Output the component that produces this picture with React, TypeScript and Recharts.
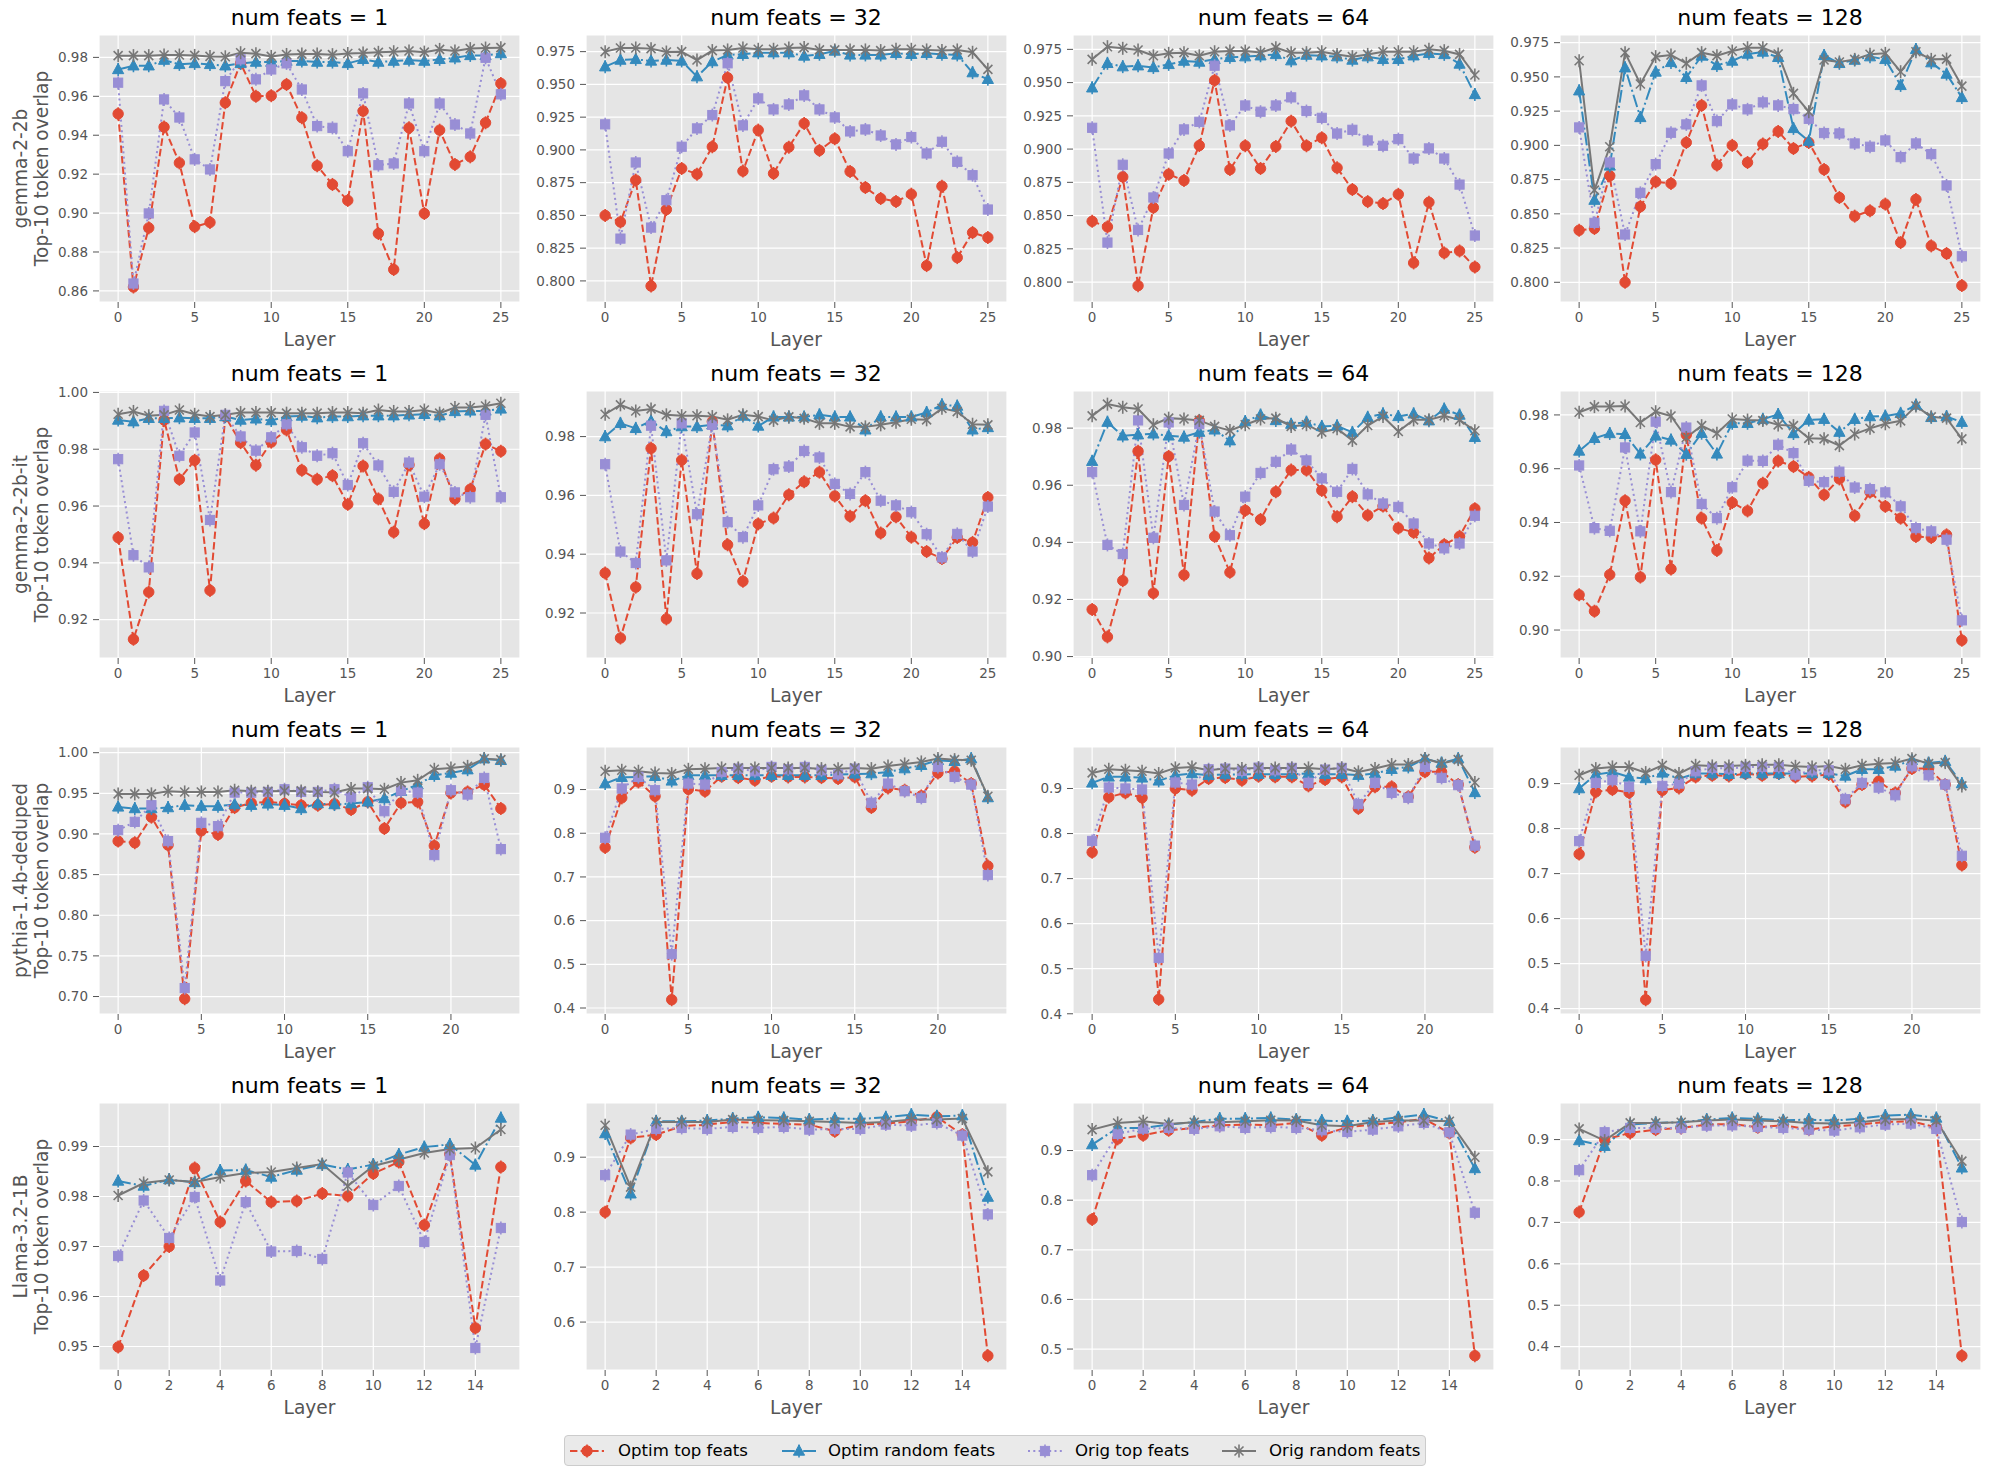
import React from 'react';
import { LineChart, Line, XAxis, YAxis, CartesianGrid } from 'recharts';

// ---------------- labels ----------------
const MODELS = ['gemma-2-2b', 'gemma-2-2b-it', 'pythia-1.4b-deduped', 'Llama-3.2-1B'];
const NUM_FEATS = [1, 32, 64, 128];
const SERIES_NAMES = ['Optim top feats', 'Optim random feats', 'Orig top feats', 'Orig random feats'];
const X_LABEL = 'Layer';
const Y_LABEL = 'Top-10 token overlap';

// ---------------- data: gemma-2-2b ----------------
const g2b_1_optTop = [0.951,0.862,0.8924,0.9442,0.9258,0.893,0.8952,0.9567,0.977,0.96,0.9603,0.9661,0.949,0.9243,0.9147,0.9065,0.9524,0.8895,0.871,0.9438,0.8998,0.9426,0.925,0.9289,0.9464,0.9666];
const g2b_1_optRand = [0.9738,0.9757,0.9757,0.9786,0.9764,0.9769,0.9764,0.9757,0.9769,0.9776,0.9776,0.9781,0.9781,0.9776,0.9776,0.9769,0.979,0.9776,0.9781,0.9786,0.9781,0.979,0.9798,0.981,0.981,0.982];
const g2b_1_origTop = [0.967,0.8638,0.8998,0.9584,0.9491,0.9276,0.9224,0.9678,0.979,0.9687,0.9738,0.9769,0.9635,0.9447,0.9438,0.9318,0.9615,0.9246,0.9255,0.9563,0.9318,0.9563,0.9455,0.9409,0.9798,0.961];
const g2b_1_origRand = [0.9809,0.9809,0.9809,0.9812,0.9812,0.981,0.9805,0.9803,0.9824,0.9819,0.9805,0.9815,0.9817,0.9817,0.9814,0.982,0.9822,0.9826,0.9829,0.9833,0.9827,0.9841,0.9833,0.9845,0.9848,0.985];

const g2b_32_optTop = [0.85,0.845,0.8769,0.7961,0.8545,0.8858,0.8815,0.9024,0.9551,0.8838,0.9151,0.882,0.9021,0.9202,0.8996,0.9085,0.8835,0.8713,0.8629,0.8606,0.8662,0.8117,0.8723,0.8178,0.8369,0.8331];
const g2b_32_optRand = [0.9635,0.9686,0.9691,0.9679,0.9686,0.9679,0.9559,0.9674,0.9725,0.973,0.9742,0.9742,0.9742,0.9717,0.973,0.9755,0.9725,0.9725,0.9725,0.9737,0.973,0.9737,0.973,0.9725,0.959,0.9539];
const g2b_32_origTop = [0.9195,0.8323,0.8904,0.8407,0.8616,0.9024,0.9164,0.9266,0.9661,0.9187,0.9393,0.9309,0.9347,0.9416,0.9309,0.9248,0.9141,0.9156,0.911,0.9042,0.9098,0.8973,0.9062,0.8909,0.8807,0.8545];
const g2b_32_origRand = [0.975,0.9778,0.9778,0.9773,0.9747,0.975,0.9686,0.9758,0.9763,0.9778,0.9768,0.9768,0.9778,0.9781,0.9763,0.9763,0.9763,0.9763,0.9758,0.9768,0.9768,0.9763,0.9758,0.9763,0.9745,0.9615];

const g2b_64_optTop = [0.8457,0.8415,0.8791,0.7973,0.856,0.8811,0.8764,0.9027,0.9517,0.8846,0.9025,0.8854,0.902,0.921,0.9025,0.9085,0.8859,0.8696,0.8605,0.859,0.866,0.8144,0.86,0.8219,0.8234,0.8113];
const g2b_64_optRand = [0.9461,0.9645,0.962,0.9627,0.9614,0.9637,0.9662,0.9655,0.9675,0.969,0.9695,0.9702,0.9712,0.9665,0.9707,0.9702,0.9695,0.967,0.9695,0.9675,0.9675,0.9702,0.972,0.9712,0.964,0.9411];
const g2b_64_origTop = [0.916,0.8297,0.8882,0.8392,0.8636,0.8967,0.9148,0.9205,0.9627,0.9178,0.9328,0.9281,0.9328,0.9389,0.9286,0.9235,0.9117,0.9145,0.9065,0.9025,0.9075,0.8929,0.9005,0.8929,0.8733,0.835];
const g2b_64_origRand = [0.9675,0.977,0.9758,0.9745,0.9702,0.972,0.9725,0.9702,0.9732,0.9737,0.9737,0.9727,0.9763,0.9725,0.9725,0.9732,0.9712,0.9695,0.9712,0.9732,0.9732,0.9732,0.975,0.974,0.9712,0.9557];

const g2b_128_optTop = [0.838,0.8393,0.8778,0.8,0.8553,0.8734,0.8722,0.9021,0.9292,0.8856,0.9,0.8875,0.901,0.9102,0.8977,0.9021,0.8824,0.8619,0.8483,0.8522,0.8571,0.829,0.8605,0.8266,0.821,0.7976];
const g2b_128_optRand = [0.9399,0.86,0.885,0.9567,0.9204,0.9536,0.9606,0.9497,0.9653,0.9584,0.9616,0.9667,0.9682,0.9643,0.9124,0.9031,0.9657,0.9599,0.9623,0.9648,0.9628,0.9438,0.9701,0.9604,0.9521,0.935];
const g2b_128_origTop = [0.9131,0.8434,0.8875,0.8349,0.8653,0.8863,0.9092,0.9153,0.9438,0.9177,0.9299,0.9263,0.9314,0.9292,0.9265,0.9194,0.909,0.9087,0.9014,0.899,0.9036,0.8914,0.9014,0.8936,0.8707,0.819];
const g2b_128_origRand = [0.9618,0.8673,0.899,0.9677,0.9448,0.9648,0.966,0.9599,0.9677,0.9655,0.9689,0.9713,0.9713,0.9667,0.938,0.9246,0.9623,0.9609,0.9628,0.9665,0.9672,0.9538,0.9684,0.9628,0.963,0.9433];

// ---------------- data: gemma-2-2b-it ----------------
const g2bit_1_optTop = [0.9489,0.9131,0.9297,0.9903,0.9694,0.9761,0.9303,0.9915,0.9823,0.9744,0.9825,0.9868,0.9726,0.9694,0.9707,0.9606,0.9741,0.9625,0.9508,0.9745,0.9538,0.9766,0.9625,0.9659,0.9818,0.9793];
const g2bit_1_optRand = [0.9903,0.9897,0.9909,0.9909,0.9911,0.9909,0.9909,0.9915,0.9903,0.9907,0.9901,0.9915,0.9917,0.9911,0.9915,0.9915,0.9918,0.9918,0.9918,0.9921,0.9923,0.9918,0.9933,0.9935,0.9935,0.9942];
const g2bit_1_origTop = [0.9765,0.9427,0.9384,0.9935,0.9777,0.9859,0.9551,0.9921,0.9845,0.9795,0.9842,0.9888,0.9807,0.9777,0.9786,0.9674,0.9821,0.9743,0.965,0.9753,0.9633,0.9747,0.9648,0.9631,0.9921,0.9631];
const g2bit_1_origRand = [0.9923,0.9933,0.9918,0.9921,0.9938,0.9923,0.9915,0.9921,0.9929,0.9929,0.9929,0.9927,0.9927,0.9927,0.9929,0.9929,0.9927,0.9938,0.9933,0.9933,0.9938,0.9927,0.9947,0.9947,0.9952,0.9962];

const g2bit_32_optTop = [0.9336,0.9115,0.9288,0.976,0.918,0.972,0.9334,0.9851,0.9432,0.9308,0.9503,0.9523,0.9602,0.9646,0.9679,0.9598,0.9529,0.9582,0.9472,0.9527,0.9458,0.9409,0.9385,0.9457,0.944,0.9593];
const g2bit_32_optRand = [0.98,0.9845,0.9828,0.9853,0.9817,0.9834,0.9834,0.984,0.9837,0.987,0.9836,0.9867,0.9867,0.9867,0.9874,0.9867,0.9867,0.9823,0.9867,0.9867,0.9867,0.9882,0.9908,0.9904,0.9823,0.9831];
const g2bit_32_origTop = [0.9706,0.9409,0.937,0.9837,0.9379,0.9845,0.9536,0.984,0.9509,0.9458,0.9566,0.9689,0.9698,0.9751,0.9729,0.9639,0.9605,0.9679,0.9582,0.9566,0.9543,0.9468,0.9389,0.9469,0.9409,0.9562];
const g2bit_32_origRand = [0.9876,0.9908,0.9887,0.9894,0.9874,0.9871,0.9871,0.9868,0.9857,0.9874,0.9868,0.9855,0.9867,0.9862,0.9845,0.9845,0.9833,0.9833,0.984,0.9849,0.9859,0.9857,0.9896,0.9885,0.9842,0.984];

const g2bit_64_optTop = [0.9165,0.9069,0.9266,0.9719,0.9222,0.9701,0.9286,0.9826,0.9421,0.9295,0.9512,0.948,0.9577,0.9653,0.9653,0.9582,0.949,0.956,0.9495,0.9527,0.945,0.9435,0.9345,0.9392,0.9421,0.9518];
const g2bit_64_optRand = [0.9684,0.9821,0.9773,0.9777,0.978,0.9773,0.9769,0.9786,0.9794,0.9756,0.9823,0.9846,0.9827,0.9814,0.9821,0.9806,0.9808,0.9785,0.9838,0.985,0.9841,0.985,0.9826,0.9867,0.9846,0.9768];
const g2bit_64_origTop = [0.9646,0.9391,0.9359,0.9827,0.9416,0.982,0.9531,0.9814,0.9508,0.9425,0.956,0.9643,0.9682,0.9725,0.9687,0.9624,0.9577,0.9657,0.9568,0.9536,0.9524,0.9466,0.9396,0.9379,0.9396,0.9493];
const g2bit_64_origRand = [0.9843,0.9884,0.9873,0.9867,0.9812,0.9835,0.9832,0.9827,0.9806,0.9792,0.9812,0.9832,0.9835,0.9806,0.9812,0.9786,0.9798,0.9757,0.9809,0.9841,0.9788,0.9829,0.9829,0.9843,0.9829,0.9791];

const g2bit_128_optTop = [0.9131,0.907,0.9206,0.9481,0.9197,0.9633,0.9227,0.9726,0.9416,0.9296,0.9474,0.9443,0.9546,0.9629,0.9608,0.9568,0.9503,0.9562,0.9425,0.9513,0.946,0.9416,0.9348,0.9344,0.9354,0.8962];
const g2bit_128_optRand = [0.9666,0.9713,0.9731,0.9728,0.9655,0.9722,0.9707,0.9654,0.9732,0.9655,0.9769,0.9769,0.9784,0.9802,0.9731,0.9781,0.9784,0.9736,0.9784,0.9794,0.9796,0.9806,0.9837,0.9791,0.9794,0.9773];
const g2bit_128_origTop = [0.9612,0.9379,0.9369,0.9679,0.9367,0.9775,0.9513,0.9753,0.9469,0.9416,0.9531,0.963,0.9629,0.9689,0.9658,0.9555,0.955,0.9589,0.953,0.9524,0.9512,0.946,0.9379,0.9367,0.9336,0.9036];
const g2bit_128_origRand = [0.981,0.9831,0.9831,0.9833,0.9772,0.9812,0.9796,0.9716,0.976,0.9732,0.9785,0.9781,0.9779,0.9763,0.976,0.9713,0.9711,0.9686,0.9729,0.975,0.9767,0.9778,0.9833,0.9793,0.9788,0.9711];

// ---------------- data: pythia-1.4b-deduped ----------------
const py_1_optTop = [0.8912,0.8892,0.9207,0.8863,0.6973,0.9039,0.8994,0.9325,0.9382,0.9395,0.9374,0.9354,0.9354,0.937,0.93,0.9395,0.9067,0.9382,0.9395,0.8855,0.9505,0.9517,0.9607,0.9313];
const py_1_optRand = [0.9333,0.9313,0.9313,0.9325,0.9354,0.9342,0.9342,0.9362,0.9354,0.937,0.9354,0.9313,0.9374,0.9362,0.9374,0.9395,0.9436,0.9526,0.9607,0.9722,0.975,0.9791,0.9926,0.9906];
const py_1_origTop = [0.9047,0.9149,0.9354,0.8912,0.7104,0.9137,0.9096,0.9509,0.9509,0.9517,0.955,0.9517,0.9517,0.955,0.9452,0.9575,0.928,0.9534,0.9509,0.874,0.9538,0.9485,0.9689,0.8814];
const py_1_origRand = [0.9493,0.9493,0.9493,0.9526,0.9517,0.9517,0.9517,0.9538,0.9526,0.9526,0.953,0.953,0.9517,0.9509,0.9558,0.9558,0.955,0.9632,0.966,0.9796,0.9812,0.9832,0.9926,0.9914];

const py_32_optTop = [0.7676,0.881,0.9175,0.8848,0.419,0.9008,0.8962,0.9304,0.9274,0.9213,0.9304,0.9289,0.9289,0.9274,0.9251,0.9289,0.8589,0.9038,0.8985,0.8855,0.938,0.9419,0.9137,0.725];
const py_32_optRand = [0.9137,0.9282,0.9289,0.9304,0.9198,0.9327,0.9327,0.9327,0.9327,0.9327,0.9327,0.9327,0.9327,0.9327,0.9342,0.9358,0.9365,0.9403,0.9479,0.9556,0.967,0.9647,0.9708,0.8817];
const py_32_origTop = [0.7897,0.9023,0.9289,0.8985,0.5233,0.9137,0.9114,0.9403,0.9479,0.9419,0.9517,0.9464,0.9517,0.9441,0.935,0.9479,0.8696,0.9137,0.8962,0.881,0.9517,0.9289,0.9114,0.7044];
const py_32_origRand = [0.9419,0.9441,0.9419,0.938,0.9365,0.9464,0.9479,0.9495,0.9495,0.9495,0.9495,0.9495,0.9495,0.9479,0.9479,0.9495,0.9479,0.954,0.9586,0.9632,0.9708,0.9685,0.967,0.8848];

const py_64_optTop = [0.7585,0.8808,0.8904,0.8794,0.432,0.9,0.8963,0.9221,0.9243,0.9184,0.9273,0.9258,0.9258,0.9059,0.9199,0.9258,0.8558,0.9037,0.9037,0.8816,0.9369,0.9369,0.9088,0.7696];
const py_64_optRand = [0.9125,0.9258,0.9258,0.9236,0.917,0.9295,0.9332,0.9295,0.931,0.931,0.9317,0.9317,0.9317,0.9332,0.9317,0.9317,0.9295,0.9332,0.9427,0.9479,0.9663,0.9567,0.9663,0.8912];
const py_64_origTop = [0.7836,0.9022,0.9,0.8978,0.5241,0.9133,0.9088,0.9427,0.9442,0.9391,0.9464,0.9405,0.9457,0.9125,0.942,0.9457,0.8654,0.9125,0.8904,0.8794,0.9479,0.9236,0.9074,0.7732];
const py_64_origRand = [0.9346,0.9427,0.9405,0.9383,0.9332,0.9457,0.9479,0.9405,0.9442,0.9442,0.9457,0.9457,0.9457,0.9457,0.9427,0.9457,0.9369,0.9442,0.9531,0.9531,0.9663,0.9553,0.9641,0.9133];

const py_128_optTop = [0.7433,0.8815,0.8867,0.88,0.4196,0.8852,0.8904,0.9148,0.9185,0.917,0.9222,0.9185,0.9222,0.9148,0.917,0.92,0.8594,0.8978,0.9052,0.8793,0.9333,0.9333,0.8978,0.719];
const py_128_optRand = [0.8889,0.92,0.9259,0.9148,0.9111,0.9237,0.9111,0.9222,0.9222,0.9207,0.9222,0.9222,0.9222,0.9222,0.9222,0.9222,0.917,0.9318,0.9318,0.9392,0.9517,0.9458,0.9495,0.9];
const py_128_origTop = [0.7722,0.9015,0.9074,0.8926,0.5172,0.8948,0.9,0.9273,0.9347,0.9333,0.937,0.937,0.937,0.92,0.9296,0.9296,0.8653,0.9015,0.8911,0.8741,0.9384,0.9185,0.8978,0.7396];
const py_128_origRand = [0.9185,0.9333,0.937,0.937,0.9244,0.9406,0.9222,0.9406,0.9392,0.9392,0.9406,0.9421,0.9421,0.9384,0.937,0.9392,0.9318,0.9406,0.9443,0.9458,0.9554,0.9443,0.9466,0.8948];

// ---------------- data: Llama-3.2-1B ----------------
const ll_1_optTop = [0.9499,0.9642,0.97,0.9857,0.9749,0.9831,0.9789,0.9791,0.9806,0.9801,0.9846,0.9869,0.9743,0.9885,0.9537,0.9859];
const ll_1_optRand = [0.9831,0.9821,0.9834,0.9828,0.9852,0.9853,0.9839,0.9853,0.9864,0.9854,0.9864,0.9884,0.9899,0.9904,0.9863,0.9957];
const ll_1_origTop = [0.9681,0.9792,0.9717,0.9799,0.9632,0.9789,0.969,0.9691,0.9675,0.9848,0.9783,0.9821,0.9709,0.9883,0.9497,0.9737];
const ll_1_origRand = [0.9802,0.9827,0.9833,0.9829,0.9839,0.9847,0.9849,0.9857,0.9865,0.9821,0.9861,0.9874,0.9887,0.9895,0.9897,0.9934];

const ll_32_optTop = [0.8,0.9351,0.9411,0.9563,0.9593,0.9641,0.9623,0.9605,0.9593,0.9472,0.9593,0.9611,0.9653,0.9732,0.9411,0.5388];
const ll_32_optRand = [0.943,0.8334,0.9653,0.9653,0.9666,0.9702,0.9726,0.9714,0.9684,0.9702,0.9696,0.9726,0.9774,0.9744,0.9756,0.8274];
const ll_32_origTop = [0.8673,0.9411,0.9514,0.9532,0.9514,0.9551,0.9532,0.9551,0.9502,0.9514,0.9514,0.9593,0.9575,0.9623,0.9393,0.7959];
const ll_32_origRand = [0.9581,0.8455,0.9641,0.9641,0.9641,0.9684,0.9672,0.9666,0.9653,0.9641,0.9623,0.9641,0.9684,0.9684,0.9702,0.8734];

const ll_64_optTop = [0.7613,0.9235,0.9308,0.9409,0.9456,0.9509,0.9523,0.9509,0.9556,0.9308,0.9469,0.9523,0.957,0.9643,0.9355,0.4866];
const ll_64_optRand = [0.9121,0.9456,0.9456,0.9523,0.9576,0.9643,0.9643,0.9657,0.9623,0.9603,0.959,0.9603,0.967,0.9724,0.959,0.8638];
const ll_64_origTop = [0.8504,0.9335,0.9442,0.9456,0.9436,0.9489,0.9456,0.9476,0.9456,0.9409,0.9375,0.9422,0.9489,0.9556,0.9368,0.7747];
const ll_64_origRand = [0.9422,0.9556,0.959,0.9536,0.957,0.957,0.959,0.961,0.9603,0.9509,0.9489,0.9576,0.9603,0.9603,0.959,0.8866];

const ll_128_optTop = [0.7249,0.9,0.9161,0.9241,0.9281,0.9361,0.9377,0.9297,0.9345,0.9241,0.9321,0.9361,0.9426,0.9442,0.9297,0.378];
const ll_128_optRand = [0.8976,0.8839,0.9361,0.9402,0.9418,0.9482,0.9522,0.9498,0.9466,0.9482,0.9458,0.9506,0.9578,0.9602,0.9522,0.8317];
const ll_128_origTop = [0.8261,0.9177,0.9281,0.9281,0.9281,0.9337,0.9345,0.9305,0.9281,0.9241,0.9217,0.9297,0.9361,0.9385,0.9257,0.7009];
const ll_128_origRand = [0.9257,0.8976,0.9402,0.9402,0.9418,0.9458,0.9482,0.9458,0.9442,0.9402,0.9385,0.9418,0.9482,0.9498,0.9458,0.8478];

// ---------------- axis ticks ----------------
const X_TICKS_26 = [0, 5, 10, 15, 20, 25];
const X_TICKS_24 = [0, 5, 10, 15, 20];
const X_TICKS_16 = [0, 2, 4, 6, 8, 10, 12, 14];
const Y_TICKS_A = [0.86, 0.88, 0.9, 0.92, 0.94, 0.96, 0.98];
const Y_TICKS_B = [0.8, 0.825, 0.85, 0.875, 0.9, 0.925, 0.95, 0.975];
const Y_TICKS_C = [0.92, 0.94, 0.96, 0.98, 1.0];
const Y_TICKS_D = [0.92, 0.94, 0.96, 0.98];
const Y_TICKS_E = [0.9, 0.92, 0.94, 0.96, 0.98];
const Y_TICKS_F = [0.7, 0.75, 0.8, 0.85, 0.9, 0.95, 1.0];
const Y_TICKS_G = [0.4, 0.5, 0.6, 0.7, 0.8, 0.9];
const Y_TICKS_H = [0.95, 0.96, 0.97, 0.98, 0.99];
const Y_TICKS_I = [0.6, 0.7, 0.8, 0.9];
const Y_TICKS_J = [0.5, 0.6, 0.7, 0.8, 0.9];

// ---------------- panel grid ----------------
const SERIES_GRID = [
  [
    [g2b_1_optTop, g2b_1_optRand, g2b_1_origTop, g2b_1_origRand],
    [g2b_32_optTop, g2b_32_optRand, g2b_32_origTop, g2b_32_origRand],
    [g2b_64_optTop, g2b_64_optRand, g2b_64_origTop, g2b_64_origRand],
    [g2b_128_optTop, g2b_128_optRand, g2b_128_origTop, g2b_128_origRand],
  ],
  [
    [g2bit_1_optTop, g2bit_1_optRand, g2bit_1_origTop, g2bit_1_origRand],
    [g2bit_32_optTop, g2bit_32_optRand, g2bit_32_origTop, g2bit_32_origRand],
    [g2bit_64_optTop, g2bit_64_optRand, g2bit_64_origTop, g2bit_64_origRand],
    [g2bit_128_optTop, g2bit_128_optRand, g2bit_128_origTop, g2bit_128_origRand],
  ],
  [
    [py_1_optTop, py_1_optRand, py_1_origTop, py_1_origRand],
    [py_32_optTop, py_32_optRand, py_32_origTop, py_32_origRand],
    [py_64_optTop, py_64_optRand, py_64_origTop, py_64_origRand],
    [py_128_optTop, py_128_optRand, py_128_origTop, py_128_origRand],
  ],
  [
    [ll_1_optTop, ll_1_optRand, ll_1_origTop, ll_1_origRand],
    [ll_32_optTop, ll_32_optRand, ll_32_origTop, ll_32_origRand],
    [ll_64_optTop, ll_64_optRand, ll_64_origTop, ll_64_origRand],
    [ll_128_optTop, ll_128_optRand, ll_128_origTop, ll_128_origRand],
  ],
];

// axis configuration per panel
const Y_AXES = [
  [
    { domain: [0.8543, 0.9915], ticks: Y_TICKS_A, dec: 2 },
    { domain: [0.7839, 0.9877], ticks: Y_TICKS_B, dec: 3 },
    { domain: [0.785, 0.9858], ticks: Y_TICKS_B, dec: 3 },
    { domain: [0.7856, 0.9806], ticks: Y_TICKS_B, dec: 3 },
  ],
  [
    { domain: [0.9065, 1.0005], ticks: Y_TICKS_C, dec: 2 },
    { domain: [0.9047, 0.9955], ticks: Y_TICKS_D, dec: 2 },
    { domain: [0.8995, 0.993], ticks: Y_TICKS_E, dec: 2 },
    { domain: [0.8896, 0.9889], ticks: Y_TICKS_E, dec: 2 },
  ],
  [
    { domain: [0.6785, 1.007], ticks: Y_TICKS_F, dec: 2 },
    { domain: [0.3863, 0.9974], ticks: Y_TICKS_G, dec: 1 },
    { domain: [0.3995, 0.9921], ticks: Y_TICKS_G, dec: 1 },
    { domain: [0.388, 0.9813], ticks: Y_TICKS_G, dec: 1 },
  ],
  [
    { domain: [0.9453, 0.9987], ticks: Y_TICKS_H, dec: 2 },
    { domain: [0.5128, 0.9986], ticks: Y_TICKS_I, dec: 1 },
    { domain: [0.4578, 0.9958], ticks: Y_TICKS_J, dec: 1 },
    { domain: [0.3436, 0.9883], ticks: Y_TICKS_G, dec: 1 },
  ],
];
const X_AXES = [
  { domain: [-1.25, 26.25], ticks: X_TICKS_26 },
  { domain: [-1.25, 26.25], ticks: X_TICKS_26 },
  { domain: [-1.15, 24.15], ticks: X_TICKS_24 },
  { domain: [-0.75, 15.75], ticks: X_TICKS_16 },
];

// ---------------- styles ----------------
const FONT = '"DejaVu Sans", "Liberation Sans", sans-serif';
const COLORS = ['#E24A33', '#348ABD', '#988ED5', '#777777'];
const DASHES = ['7.4 3.2', '12.8 3.2 2 3.2', '2 3.3', undefined];
const MARKERS = ['circle', 'triangle', 'square', 'x'];
const KEYS = ['s0', 's1', 's2', 's3'];

const PLOT_LEFTS = [99, 585.5, 1073, 1559.5];
const PLOT_TOPS = [35, 391, 747, 1103];
const PLOT_W = 421;
const PLOT_H = 267;
const Y_AXIS_W = 70;
const X_AXIS_H = 40;
const M_TOP = 12;
const M_RIGHT = 4;

function MarkerShape({ kind, color, cx, cy }: { kind: string; color: string; cx: number; cy: number }) {
  const err = <line x1={cx} x2={cx} y1={cy - 6.5} y2={cy + 6.5} stroke={color} strokeWidth={1.6} />;
  if (kind === 'circle') {
    return (
      <g>
        {err}
        <circle cx={cx} cy={cy} r={5.2} fill={color} stroke={color} strokeWidth={1} />
      </g>
    );
  }
  if (kind === 'triangle') {
    return (
      <g>
        {err}
        <polygon
          points={`${cx},${cy - 6} ${cx - 5.6},${cy + 4.2} ${cx + 5.6},${cy + 4.2}`}
          fill={color}
          stroke={color}
          strokeWidth={1}
        />
      </g>
    );
  }
  if (kind === 'square') {
    return (
      <g>
        {err}
        <rect x={cx - 4.6} y={cy - 4.6} width={9.2} height={9.2} fill={color} stroke={color} strokeWidth={1} />
      </g>
    );
  }
  return (
    <g>
      {err}
      <line x1={cx - 4.5} y1={cy - 4.5} x2={cx + 4.5} y2={cy + 4.5} stroke={color} strokeWidth={1.6} />
      <line x1={cx - 4.5} y1={cy + 4.5} x2={cx + 4.5} y2={cy - 4.5} stroke={color} strokeWidth={1.6} />
    </g>
  );
}

function makeDot(kind: string, color: string) {
  return (props: any) => {
    const { cx, cy, index } = props;
    if (cx == null || cy == null || isNaN(cx) || isNaN(cy)) return <g key={`d${index}`} />;
    return (
      <g key={`d${index}`}>
        <MarkerShape kind={kind} color={color} cx={cx} cy={cy} />
      </g>
    );
  };
}

function buildRows(series: number[][]) {
  return series[0].map((_, i) => ({
    layer: i,
    s0: series[0][i],
    s1: series[1][i],
    s2: series[2][i],
    s3: series[3][i],
  }));
}

function Panel({ r, c }: { r: number; c: number }) {
  const data = buildRows(SERIES_GRID[r][c]);
  const ya = Y_AXES[r][c];
  const xa = X_AXES[r];
  const left = PLOT_LEFTS[c];
  const top = PLOT_TOPS[r];
  const tickStyle = { fill: '#555555', fontSize: 13.5, fontFamily: FONT };
  return (
    <>
      <div
        style={{
          position: 'absolute',
          left: left,
          width: PLOT_W,
          top: top - 30,
          height: 26,
          lineHeight: '26px',
          textAlign: 'center',
          fontSize: 22,
          color: '#000',
          fontFamily: FONT,
          whiteSpace: 'nowrap',
        }}
      >
        {`num feats = ${NUM_FEATS[c]}`}
      </div>
      <div style={{ position: 'absolute', left: left - Y_AXIS_W, top: top - M_TOP }}>
        <LineChart
          width={Y_AXIS_W + PLOT_W + M_RIGHT}
          height={M_TOP + PLOT_H + X_AXIS_H}
          data={data}
          margin={{ top: M_TOP, right: M_RIGHT, bottom: 0, left: 0 }}
        >
          <CartesianGrid fill="#E5E5E5" fillOpacity={1} stroke="#FFFFFF" strokeWidth={1.2} />
          <XAxis
            dataKey="layer"
            type="number"
            domain={xa.domain as [number, number]}
            ticks={xa.ticks}
            interval={0}
            allowDataOverflow
            axisLine={false}
            tickLine={{ stroke: '#555555' }}
            tickSize={6}
            tickMargin={4}
            tick={tickStyle}
            height={X_AXIS_H}
          />
          <YAxis
            type="number"
            domain={ya.domain as [number, number]}
            ticks={ya.ticks}
            interval={0}
            allowDataOverflow
            axisLine={false}
            tickLine={{ stroke: '#555555' }}
            tickSize={6}
            tickMargin={5}
            tick={tickStyle}
            width={Y_AXIS_W}
            tickFormatter={(v: number) => v.toFixed(ya.dec)}
          />
          {KEYS.map((k, i) => (
            <Line
              key={k}
              dataKey={k}
              name={SERIES_NAMES[i]}
              type="linear"
              stroke={COLORS[i]}
              strokeWidth={2}
              strokeDasharray={DASHES[i]}
              dot={makeDot(MARKERS[i], COLORS[i])}
              activeDot={false}
              isAnimationActive={false}
            />
          ))}
        </LineChart>
      </div>
      <div
        style={{
          position: 'absolute',
          left: left,
          width: PLOT_W,
          top: top + PLOT_H + 26,
          height: 24,
          lineHeight: '24px',
          textAlign: 'center',
          fontSize: 18.6,
          color: '#555555',
          fontFamily: FONT,
        }}
      >
        {X_LABEL}
      </div>
      {c === 0 && (
        <svg
          width={60}
          height={PLOT_H + 20}
          style={{ position: 'absolute', left: 0, top: top - 10 }}
        >
          <text
            transform={`translate(20.5, ${PLOT_H / 2 + 10}) rotate(-90)`}
            textAnchor="middle"
            dominantBaseline="central"
            fontSize={18.6}
            fill="#555555"
            fontFamily={FONT}
          >
            {MODELS[r]}
          </text>
          <text
            transform={`translate(41.5, ${PLOT_H / 2 + 10}) rotate(-90)`}
            textAnchor="middle"
            dominantBaseline="central"
            fontSize={18.6}
            fill="#555555"
            fontFamily={FONT}
          >
            {Y_LABEL}
          </text>
        </svg>
      )}
    </>
  );
}

function LegendHandle({ i }: { i: number }) {
  const color = COLORS[i];
  return (
    <svg width={36} height={20} style={{ display: 'block' }}>
      <line x1={1} x2={35} y1={10} y2={10} stroke={color} strokeWidth={2} strokeDasharray={DASHES[i]} />
      <MarkerShape kind={MARKERS[i]} color={color} cx={18} cy={10} />
    </svg>
  );
}

const LEGEND_HANDLE_X = [4, 216, 462, 656];
const LEGEND_TEXT_X = [53, 263, 510, 704];

function Legend() {
  return (
    <div
      style={{
        position: 'absolute',
        left: 564,
        top: 1435,
        width: 862,
        height: 31,
        boxSizing: 'border-box',
        background: '#EAEAEA',
        border: '1px solid #CCCCCC',
        borderRadius: 4,
        fontFamily: FONT,
      }}
    >
      {SERIES_NAMES.map((n, i) => (
        <React.Fragment key={n}>
          <div style={{ position: 'absolute', left: LEGEND_HANDLE_X[i], top: 5 }}>
            <LegendHandle i={i} />
          </div>
          <div
            style={{
              position: 'absolute',
              left: LEGEND_TEXT_X[i],
              top: 0,
              height: 29,
              lineHeight: '29px',
              fontSize: 16.6,
              color: '#000',
              whiteSpace: 'nowrap',
            }}
          >
            {n}
          </div>
        </React.Fragment>
      ))}
    </div>
  );
}

export default function App() {
  const cells: React.ReactNode[] = [];
  for (let r = 0; r < 4; r++) {
    for (let c = 0; c < 4; c++) {
      cells.push(<Panel key={`${r}-${c}`} r={r} c={c} />);
    }
  }
  return (
    <div
      style={{
        position: 'absolute',
        left: 0,
        top: 0,
        width: 1989,
        height: 1476,
        background: '#FFFFFF',
        fontFamily: FONT,
        overflow: 'hidden',
      }}
    >
      {cells}
      <Legend />
    </div>
  );
}
